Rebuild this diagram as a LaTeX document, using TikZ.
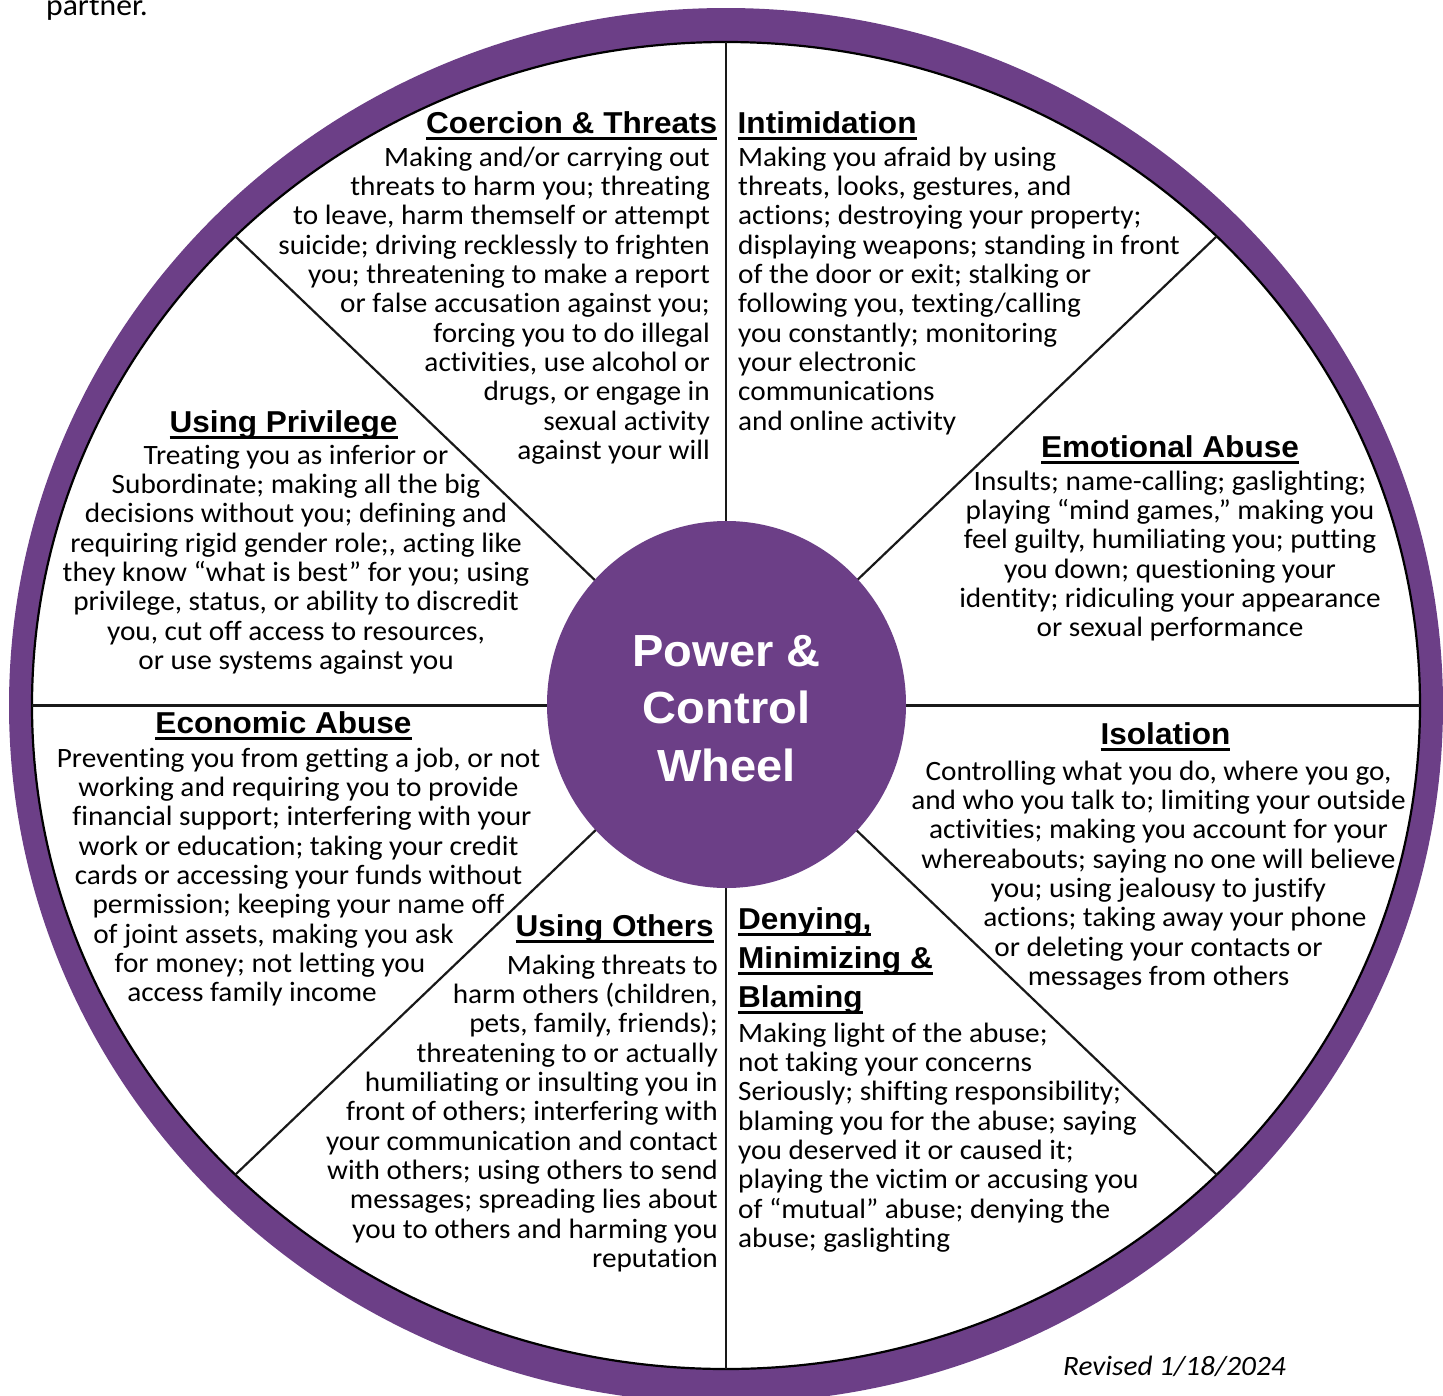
\documentclass[tikz,border=0pt]{standalone}
\usepackage{fontspec}
\setmainfont{Carlito}[FakeStretch=1.045, Ligatures={TeX,NoCommon}]
\newfontfamily\hdfont{Liberation Sans}[FakeStretch=1.045]
\usetikzlibrary{shapes.geometric}
\definecolor{wheelpurple}{RGB}{108,63,135}
\newcommand{\rblock}[1]{\vtop{\let\\\cr\halign{\hfil##\cr#1\crcr}}}
\newcommand{\lblock}[1]{\vtop{\let\\\cr\halign{##\hfil\cr#1\crcr}}}
\newcommand{\cblock}[1]{\vtop{\let\\\cr\halign{\hfil##\hfil\cr#1\crcr}}}
\newcommand{\hul}[1]{\setbox0=\hbox{#1}\rlap{\rule[-6.5pt]{\wd0}{2.8pt}}\box0}
\tikzset{
  body/.style={inner sep=0pt, font=\fontsize{28}{29.35}\selectfont},
  head/.style={inner sep=0pt, font=\hdfont\bfseries\fontsize{30.2}{39}\selectfont},
  spoke/.style={line width=2.2pt, black!90},
  hubstyle/.style={ellipse, fill=wheelpurple, draw=none, inner sep=0pt, minimum width=359pt, minimum height=367pt},
}
\begin{document}
\begin{tikzpicture}[x=1pt,y=-1pt]
\useasboundingbox (0,0) rectangle (1443,1395);
% ring
\fill[wheelpurple] (726,705.5) ellipse [x radius=717, y radius=697.5];
\draw[line width=2.2pt, fill=white] (726,705.5) ellipse [x radius=694, y radius=663.5];
% spoke ends
\coordinate (t) at (726,42);
\coordinate (b) at (726,1369);
\coordinate (l) at (32,705.5);
\coordinate (r) at (1420,705.5);
\coordinate (tl) at (235.3,236.3);
\coordinate (tr) at (1216.7,236.3);
\coordinate (bl) at (235.3,1174.7);
\coordinate (br) at (1216.7,1174.7);
\draw[spoke] (t) -- (b);
\draw[spoke] (l) -- (r);
\draw[spoke] (tl) -- (br);
\draw[spoke] (tr) -- (bl);
% hub
\node[hubstyle] (hub) at (726.5,704.5) {};
\node[inner sep=0pt, anchor=base, text=white, font=\hdfont\bfseries\fontsize{45}{57.5}\selectfont] (hubtext) at (726.5,666) {\cblock{Power \&\\Control\\Wheel}};

% top-left cut text
\node[inner sep=0pt, anchor=base west, font=\fontsize{30.3}{36}\selectfont] (partner) at (46,15) {partner.};

% Coercion & Threats
\node[head, anchor=base east] (coh) at (717.5,133) {\hul{Coercion \& Threats}};
\node[body, anchor=base east] (cob) at (710,166) {\rblock{Making and/or carrying out\\
threats to harm you; threating\\
to leave, harm themself or attempt\\
suicide; driving recklessly to frighten\\
you; threatening to make a report\\
or false accusation against you;\\
forcing you to do illegal\\
activities, use alcohol or\\
drugs, or engage in\\
sexual activity\\
against your will}};

% Intimidation
\node[head, anchor=base west] (inh) at (737.5,133) {\hul{Intimidation}};
\node[body, anchor=base west] (inb) at (738,166) {\lblock{Making you afraid by using\\
threats, looks, gestures, and\\
actions; destroying your property;\\
displaying weapons; standing in front\\
of the door or exit; stalking or\\
following you, texting/calling\\
you constantly; monitoring\\
your electronic\\
communications\\
and online activity}};

% Emotional Abuse
\node[head, anchor=base] (emh) at (1170,457) {\hul{Emotional Abuse}};
\node[body, anchor=base] (emb) at (1170,490) {\cblock{Insults; name-calling; gaslighting;\\
playing “mind games,” making you\\
feel guilty, humiliating you; putting\\
you down; questioning your\\
identity; ridiculing your appearance\\
or sexual performance}};

% Isolation
\node[head, anchor=base] (ish) at (1165.5,744) {\hul{Isolation}};
\node[body, anchor=base] (isb) at (1158.5,780) {\cblock{Controlling what you do, where you go,\\
and who you talk to; limiting your outside\\
activities; making you account for your\\
whereabouts; saying no one will believe\\
you; using jealousy to justify\\
\hspace*{33pt}actions; taking away your phone\\
or deleting your contacts or\\
messages from others}};

% Denying, Minimizing & Blaming
\node[head, anchor=base west] (deh) at (738,929) {\lblock{\hul{Denying,}\\\hul{Minimizing \&}\\\hul{Blaming}}};
\node[body, anchor=base west] (deb) at (738,1042) {\lblock{Making light of the abuse;\\
not taking your concerns\\
Seriously; shifting responsibility;\\
blaming you for the abuse; saying\\
you deserved it or caused it;\\
playing the victim or accusing you\\
of “mutual” abuse; denying the\\
abuse; gaslighting}};

% Using Others
\node[head, anchor=base east] (uoh) at (714,936) {\hul{Using Others}};
\node[body, anchor=base east] (uob) at (718,974) {\rblock{Making threats to\\
harm others (children,\\
pets, family, friends);\\
threatening to or actually\\
humiliating or insulting you in\\
front of others; interfering with\\
your communication and contact\\
with others; using others to send\\
messages; spreading lies about\\
you to others and harming you\\
reputation}};

% Economic Abuse
\node[head, anchor=base] (ech) at (283.5,733) {\hul{Economic Abuse}};
\node[body, anchor=base] (ecb) at (298.5,767) {\cblock{Preventing you from getting a job, or not\\
working and requiring you to provide\\
\hspace*{7pt}financial support; interfering with your\\
work or education; taking your credit\\
cards or accessing your funds without\\
permission; keeping your name off\\
of joint assets, making you ask\hspace*{50pt}\\
for money; not letting you\hspace*{57pt}\\
access family income\hspace*{93pt}}};

% Using Privilege
\node[head, anchor=base] (uph) at (283.5,432) {\hul{Using Privilege}};
\node[body, anchor=base] (upb) at (296,464) {\cblock{Treating you as inferior or\\
Subordinate; making all the big\\
decisions without you; defining and\\
requiring rigid gender role;, acting like\\
they know “what is best” for you; using\\
privilege, status, or ability to discredit\\
you, cut off access to resources,\\
or use systems against you}};

% Revised
\node[inner sep=0pt, anchor=base west, font=\itshape\fontsize{28}{29.35}\selectfont] (rev) at (1063,1375) {Revised 1/18/2024};
\end{tikzpicture}
\end{document}
